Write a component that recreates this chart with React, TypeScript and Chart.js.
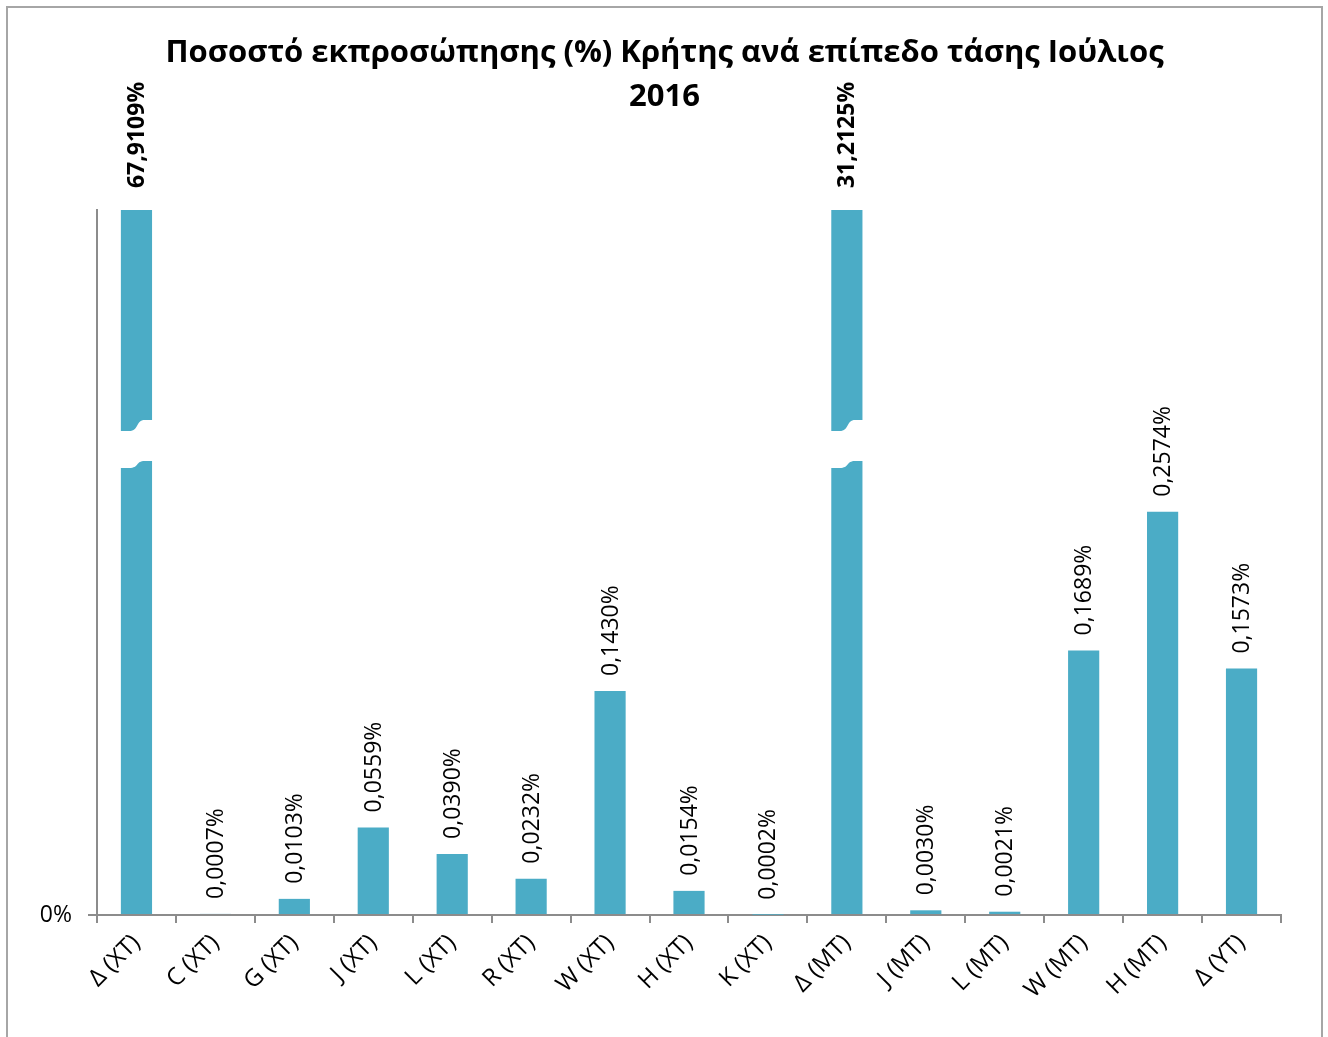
import React, { useEffect, useRef } from "react";
import { Chart, registerables } from "chart.js";

Chart.register(...registerables);

const categories: string[] = [
  "Δ (XT)", "C (XT)", "G (XT)", "J (XT)", "L (XT)", "R (XT)", "W (XT)", "H (XT)", "K (XT)",
  "Δ (MT)", "J (MT)", "L (MT)", "W (MT)", "H (MT)", "Δ (YT)",
];
const values: number[] = [
  67.9109, 0.0007, 0.0103, 0.0559, 0.039, 0.0232, 0.143, 0.0154, 0.0002,
  31.2125, 0.003, 0.0021, 0.1689, 0.2574, 0.1573,
];
const titleLines: string[] = ["Ποσοστό εκπροσώπησης (%) Κρήτης ανά επίπεδο τάσης Ιούλιος", "2016"];
const yMax = 0.45;

const BAR_COLOR = "#4BACC6";
const AXIS_COLOR = "#8c8c8c";
const FONT = "'Open Sans', sans-serif";

const fmt = (v: number) => v.toFixed(4).replace(".", ",") + "%";

const labelPlugin = {
  id: "barLabels",
  afterDatasetsDraw(chart: any) {
    const meta = chart.getDatasetMeta(0);
    const ctx = chart.ctx as CanvasRenderingContext2D;
    const area = chart.chartArea;
    const max = chart.scales.y.max;
    meta.data.forEach((bar: any, i: number) => {
      const v = values[i];
      const big = v > max;
      if (big) {
        // axis break mark
        const w = bar.width;
        const l = bar.x - w / 2 - 1;
        const r = bar.x + w / 2 + 4;
        const y1 = area.top + area.height * 0.298;
        ctx.save();
        ctx.fillStyle = "#ffffff";
        ctx.beginPath();
        ctx.moveTo(l, y1 + 11);
        ctx.lineTo(l + w * 0.3, y1 + 11);
        ctx.bezierCurveTo(l + w * 0.62, y1 + 11, l + w * 0.5, y1, l + w * 0.8, y1);
        ctx.lineTo(r, y1);
        ctx.lineTo(r, y1 + 41);
        ctx.lineTo(l + w * 0.8, y1 + 41);
        ctx.bezierCurveTo(l + w * 0.5, y1 + 41, l + w * 0.62, y1 + 48, l + w * 0.3, y1 + 48);
        ctx.lineTo(l, y1 + 48);
        ctx.closePath();
        ctx.fill();
        ctx.restore();
      }
      const top = Math.max(bar.y, area.top);
      ctx.save();
      ctx.translate(bar.x + 1, top - (big ? 22 : 15));
      ctx.rotate(-Math.PI / 2);
      ctx.font = (big ? "bold " : "") + "23px " + FONT;
      ctx.fillStyle = "#000";
      ctx.textAlign = "left";
      ctx.textBaseline = "middle";
      ctx.fillText(fmt(v), 0, 0);
      ctx.restore();
    });
  },
};

const CANVAS_W = 1313;
const CANVAS_H = 1036;
const RIGHT_GAP = 40;
const PLOT_LEFT = 89;
const PLOT_BOTTOM = 907;

export default function App() {
  const ref = useRef<HTMLCanvasElement | null>(null);
  useEffect(() => {
    document.body.style.overflow = "hidden";
    if (!ref.current) return;
    const chart = new Chart(ref.current, {
      type: "bar",
      data: {
        labels: categories,
        datasets: [
          {
            data: values,
            backgroundColor: BAR_COLOR,
            borderWidth: 0,
            barPercentage: 0.395,
            categoryPercentage: 1,
          },
        ],
      },
      plugins: [labelPlugin],
      options: {
        responsive: false,
        animation: false,
        layout: { padding: 0 },
        plugins: {
          legend: { display: false },
          tooltip: { enabled: false },
          title: {
            display: true,
            text: titleLines,
            color: "#000",
            font: { family: "'Open Sans', sans-serif", weight: "bold", size: 31, lineHeight: 1.42 },
            padding: { top: 23, bottom: 91 },
          },
        },
        scales: {
          x: {
            afterFit(scale: any) {
              scale.height = CANVAS_H - PLOT_BOTTOM;
              scale.paddingRight = RIGHT_GAP;
            },
            grid: {
              display: true,
              drawOnChartArea: false,
              drawTicks: true,
              tickLength: 8,
              color: AXIS_COLOR,
              lineWidth: 2,
              offset: true,
            },
            border: { color: AXIS_COLOR, width: 2 },
            ticks: {
              color: "#000",
              font: { family: FONT, size: 24 },
              minRotation: 45,
              maxRotation: 45,
              autoSkip: false,
              padding: 6,
            },
          },
          y: {
            min: 0,
            max: yMax,
            afterFit(scale: any) {
              scale.width = PLOT_LEFT;
            },
            afterBuildTicks(scale: any) {
              scale.ticks = [{ value: 0 }];
            },
            grid: {
              display: true,
              drawOnChartArea: false,
              drawTicks: true,
              tickLength: 9,
              color: AXIS_COLOR,
              lineWidth: 2,
            },
            border: { color: AXIS_COLOR, width: 2 },
            ticks: {
              color: "#000",
              font: { family: FONT, size: 23 },
              padding: 16,
              callback: (v: any) => (Number(v) === 0 ? "0%" : ""),
            },
          },
        },
      },
    } as any);
    return () => chart.destroy();
  }, []);
  return (
    <div
      style={{
        position: "fixed",
        left: 6,
        top: 6,
        width: 1317,
        height: 1040,
        border: "2px solid #a6a6a6",
        boxSizing: "border-box",
        background: "#fff",
      }}
    >
      <canvas ref={ref} width={CANVAS_W} height={CANVAS_H} style={{ display: "block" }} />
    </div>
  );
}
